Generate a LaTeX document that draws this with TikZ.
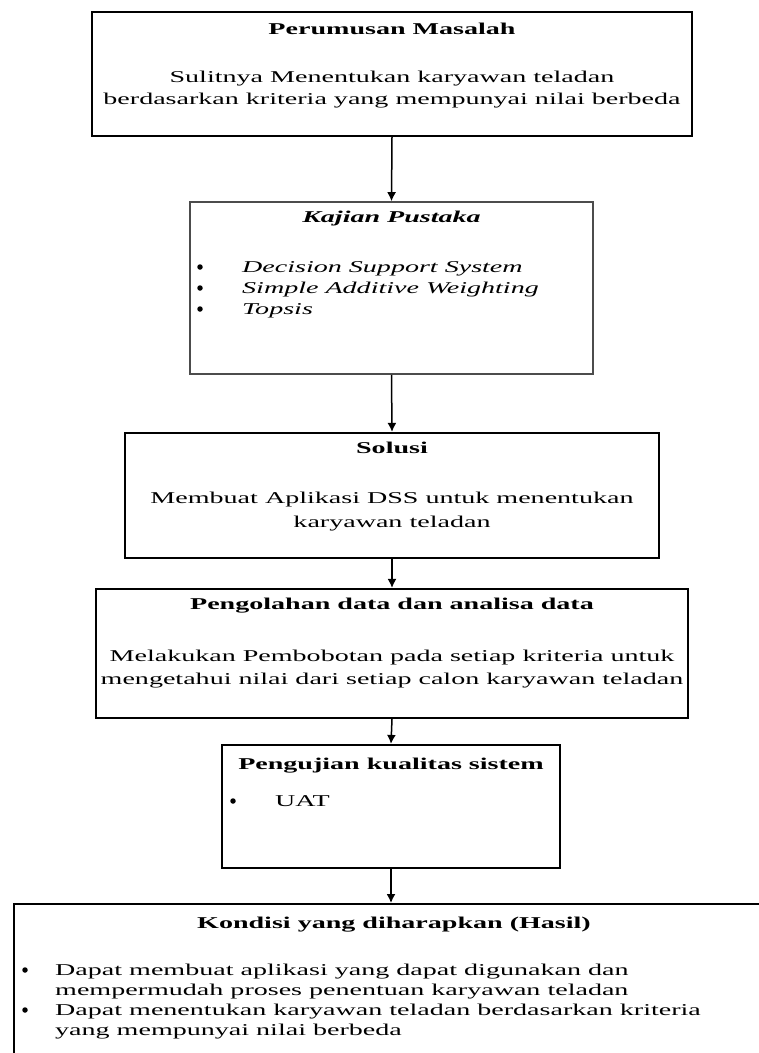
\documentclass[tikz,border=0pt]{standalone}
\usepackage{fontspec}
\usepackage{tikz}
\usetikzlibrary{arrows.meta,positioning}
\newfontfamily\lebar[FakeStretch=1.7]{Liberation Serif}
\tikzset{
  kotak/.style={draw, line width=2.2pt, inner sep=0pt},
  kotaktipis/.style={draw=black!70, line width=1.6pt, inner sep=0pt},
  judul/.style={font=\lebar\bfseries\fontsize{16.5}{21}\selectfont, inner sep=0pt, anchor=base},
  isi/.style={font=\lebar\fontsize{16.5}{21}\selectfont, inner sep=0pt},
  miring/.style={font=\lebar\itshape\fontsize{16.5}{21}\selectfont, inner sep=0pt, anchor=base west},
  titik/.style={circle, fill, inner sep=0pt, minimum size=5.5pt},
  panah/.style={line width=1.5pt, -{Latex[length=9pt,width=9pt]}}
}
\begin{document}
\begin{tikzpicture}[x=1pt,y=-1pt]
      \useasboundingbox (0,0) rectangle (759,1053);
      \clip (0,0) rectangle (759,1053);

      % kotak-kotak
      \node[kotak, minimum width=600pt, minimum height=124pt] at (392,74) (masalah){};
      \node[kotaktipis, minimum width=403pt, minimum height=172pt] at (391.5,288) (pustaka){};
      \node[kotak, minimum width=534pt, minimum height=125pt] at (392,495.5) (solusi){};
      \node[kotak, minimum width=592pt, minimum height=129pt] at (392,653.5) (olah){};
      \node[kotak, minimum width=338pt, minimum height=123pt] at (391,806.5) (uji){};
      \node[kotak, anchor=north west, minimum width=900pt, minimum height=300pt] at (13,903) (hasil){};

      % teks
      \node[judul] at (392,34) (masalahJudul){Perumusan Masalah};
      \node[isi, anchor=base] at (392,82) (masalahIsi1){Sulitnya Menentukan karyawan teladan};
      \node[isi, anchor=base] at (392,104) (masalahIsi2){berdasarkan kriteria yang mempunyai nilai berbeda};

      \node[judul, font=\lebar\bfseries\itshape\fontsize{16.5}{21}\selectfont] at (391.5,222) (pustakaJudul){Kajian Pustaka};
      \node[titik] at (200,267) (b1){};
      \node[titik] at (200,288) (b2){};
      \node[titik] at (200,309) (b3){};
      \node[miring] at (242,272) (dss){Decision Support System};
      \node[miring] at (242,293) (saw){Simple Additive Weighting};
      \node[miring] at (242,314) (topsis){Topsis};

      \node[judul] at (392,453) (solusiJudul){Solusi};
      \node[isi, anchor=base] at (392,503) (solusiIsi1){Membuat Aplikasi DSS untuk menentukan};
      \node[isi, anchor=base] at (392,527) (solusiIsi2){karyawan teladan};

      \node[judul] at (392,609) (olahJudul){Pengolahan data dan analisa data};
      \node[isi, anchor=base] at (392,661) (olahIsi1){Melakukan Pembobotan pada setiap kriteria untuk};
      \node[isi, anchor=base] at (392,684) (olahIsi2){mengetahui nilai dari setiap calon karyawan teladan};

      \node[judul] at (391,769) (ujiJudul){Pengujian kualitas sistem};
      \node[titik] at (233,801) (b4){};
      \node[isi, anchor=base west] at (275,806) (uat){UAT};

      \node[judul] at (394,928) (hasilJudul){Kondisi yang diharapkan (Hasil)};
      \node[titik] at (25,970) (b5){};
      \node[titik] at (25,1010) (b6){};
      \node[isi, anchor=base west] at (55,975) (hasil1){Dapat membuat aplikasi yang dapat digunakan dan};
      \node[isi, anchor=base west] at (55,995) (hasil2){mempermudah proses penentuan karyawan teladan};
      \node[isi, anchor=base west] at (55,1015) (hasil3){Dapat menentukan karyawan teladan berdasarkan kriteria};
      \node[isi, anchor=base west] at (55,1035) (hasil4){yang mempunyai nilai berbeda};

      % panah
      \draw[panah] (masalah.south) -- (pustaka.north);
      \draw[panah] (pustaka.south) -- (solusi.north);
      \draw[panah] (solusi.south) -- (olah.north);
      \draw[panah] (olah.south) -- (uji.north);
      \draw[panah] (uji.south) -- (uji.south |- hasil.north);

    \end{tikzpicture}
\end{document}
